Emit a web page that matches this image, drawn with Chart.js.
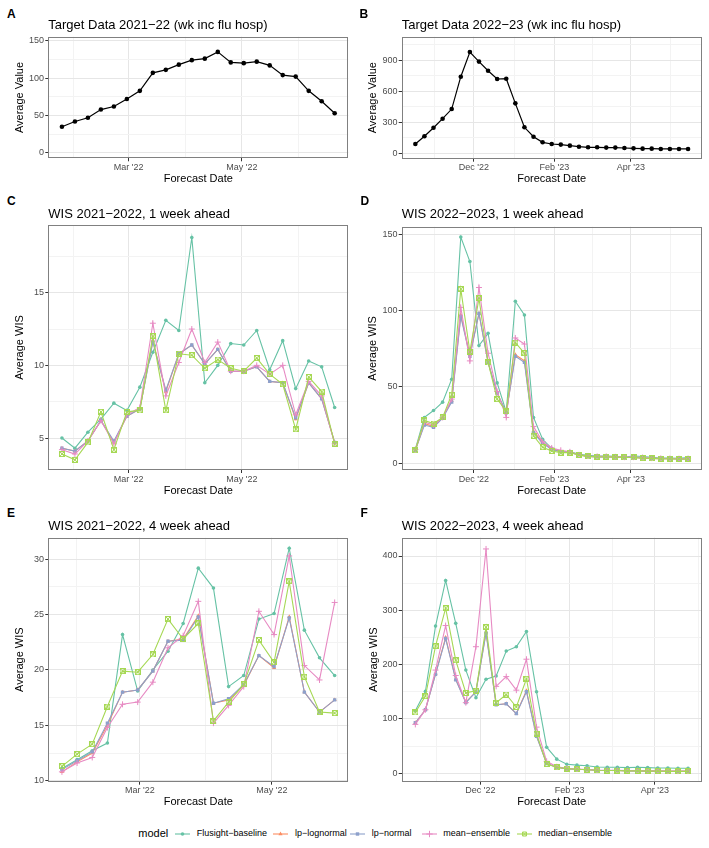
<!DOCTYPE html>
<html>
<head>
<meta charset="utf-8">
<title>FluSight WIS comparison</title>
<script src="https://cdn.jsdelivr.net/npm/chart.js@4.4.1/dist/chart.umd.min.js"></script>
<style>
  body { margin: 0; background: #fff; }
  #fig { position: relative; width: 709px; height: 848px; overflow: hidden;
         font-family: "Liberation Sans", Arial, sans-serif; color: #000; }
  #fig canvas { position: absolute; }
  .tag { position: absolute; font-size: 12px; line-height: 12px; font-weight: bold; }
  .ttl { position: absolute; font-size: 13px; line-height: 13px; white-space: nowrap; }
  .leg { position: absolute; white-space: nowrap; }
</style>
</head>
<body>
<div id="fig"></div>
<script>
// forecast dates (weekly, Mondays)
const DATES_2122 = ['2022-01-24', '2022-01-31', '2022-02-07', '2022-02-14', '2022-02-21', '2022-02-28',
  '2022-03-07', '2022-03-14', '2022-03-21', '2022-03-28', '2022-04-04', '2022-04-11', '2022-04-18',
  '2022-04-25', '2022-05-02', '2022-05-09', '2022-05-16', '2022-05-23', '2022-05-30', '2022-06-06',
  '2022-06-13', '2022-06-20'];
const DATES_2122_4WK = ['2022-01-24', '2022-01-31', '2022-02-07', '2022-02-14', '2022-02-21', '2022-02-28',
  '2022-03-07', '2022-03-14', '2022-03-21', '2022-03-28', '2022-04-04', '2022-04-11', '2022-04-18',
  '2022-04-25', '2022-05-02', '2022-05-09', '2022-05-16', '2022-05-23', '2022-05-30'];
const DATES_2223 = ['2022-10-17', '2022-10-24', '2022-10-31', '2022-11-07', '2022-11-14', '2022-11-21',
  '2022-11-28', '2022-12-05', '2022-12-12', '2022-12-19', '2022-12-26', '2023-01-02', '2023-01-09',
  '2023-01-16', '2023-01-23', '2023-01-30', '2023-02-06', '2023-02-13', '2023-02-20', '2023-02-27',
  '2023-03-06', '2023-03-13', '2023-03-20', '2023-03-27', '2023-04-03', '2023-04-10', '2023-04-17',
  '2023-04-24', '2023-05-01', '2023-05-08', '2023-05-15'];
const DATES_2223_4WK = ['2022-10-17', '2022-10-24', '2022-10-31', '2022-11-07', '2022-11-14', '2022-11-21',
  '2022-11-28', '2022-12-05', '2022-12-12', '2022-12-19', '2022-12-26', '2023-01-02', '2023-01-09',
  '2023-01-16', '2023-01-23', '2023-01-30', '2023-02-06', '2023-02-13', '2023-02-20', '2023-02-27',
  '2023-03-06', '2023-03-13', '2023-03-20', '2023-03-27', '2023-04-03', '2023-04-10', '2023-04-17',
  '2023-04-24'];

// A / B: target data
const TARGET_2122 = [35, 42, 47, 58, 62, 72, 83, 107, 111, 118, 124, 126, 135, 121, 120, 122, 117, 104, 102, 83, 69, 53];
const TARGET_2223 = [90, 165, 247, 334, 427, 739, 977, 885, 797, 717, 720, 482, 251, 160, 106, 90, 84, 74, 64, 58,
  58, 55, 55, 51, 48, 45, 45, 42, 42, 42, 42];

// C: WIS 2021-2022, 1 week ahead
const C_BASELINE  = [5.0, 4.3, 5.4, 6.3, 7.4, 6.9, 8.5, 10.9, 13.1, 12.4, 18.8, 8.8, 10.0, 11.5, 11.4, 12.4, 9.7, 11.7, 8.4, 10.3, 9.9, 7.1];
const C_LOGNORMAL = [4.3, 4.1, 4.8, 6.2, 4.7, 6.5, 7.0, 11.7, 8.2, 10.8, 11.4, 10.1, 11.1, 9.6, 9.6, 9.9, 8.9, 8.8, 6.3, 8.8, 7.7, 4.7];
const C_NORMAL    = [4.3, 4.1, 4.8, 6.2, 4.8, 6.5, 7.0, 11.6, 8.3, 10.8, 11.4, 10.1, 11.1, 9.6, 9.6, 9.9, 8.9, 8.8, 6.4, 8.8, 7.7, 4.7];
const C_MEAN      = [4.2, 3.9, 4.8, 6.2, 4.6, 6.6, 7.1, 12.9, 7.9, 10.2, 12.5, 10.2, 11.6, 9.6, 9.6, 10.0, 9.4, 10.0, 6.6, 8.9, 7.9, 4.6];
const C_MEDIAN    = [3.9, 3.5, 4.7, 6.8, 4.2, 6.8, 6.9, 12.0, 6.9, 10.8, 10.7, 9.8, 10.4, 9.8, 9.6, 10.5, 9.4, 8.7, 5.6, 9.2, 8.2, 4.6];

// D: WIS 2022-2023, 1 week ahead
const D_BASELINE  = [9.2, 30, 34.5, 40, 55, 148, 132, 77, 85, 52.6, 33.6, 106, 97, 30, 15.7, 9.8, 7.4, 7.6, 5.9, 5.2,
  4.8, 4.8, 4.6, 4.1, 4.8, 4.4, 3.9, 3.5, 3.5, 3.3, 3.7];
const D_LOGNORMAL = [8.5, 26, 24, 30, 41, 97, 71, 98, 66, 46, 33, 71, 67, 21, 13.5, 9.5, 7.5, 7, 5.5, 4.5,
  4.2, 4.3, 4.0, 3.8, 3.8, 3.5, 3.2, 3.0, 3.0, 2.8, 2.8];
const D_NORMAL    = [8.5, 25, 23.5, 29.5, 40, 96, 70, 98, 66, 46, 33, 70, 66, 20, 13, 9, 7.5, 7, 5.5, 4.5,
  4.2, 4.3, 4.0, 3.8, 3.8, 3.5, 3.2, 3.0, 3.0, 2.8, 2.8];
const D_MEAN      = [9, 27, 25, 30, 42, 102, 67, 115, 72, 47, 30, 82, 78, 24, 14, 10, 8.5, 7.5, 5.5, 4.8,
  4.5, 4.5, 4.2, 4.0, 4.0, 3.7, 3.4, 3.2, 3.1, 3.0, 3.0];
const D_MEDIAN    = [8.5, 28, 26, 30, 45, 114, 73, 108, 66, 42, 34, 79, 72, 18, 10.5, 8, 7, 7, 5.5, 4.5,
  4.3, 4.3, 4.0, 3.8, 3.8, 3.4, 3.2, 3.0, 3.0, 2.8, 2.8];

// E: WIS 2021-2022, 4 week ahead
const E_BASELINE  = [11.1, 11.9, 12.7, 13.4, 23.2, 18.1, 20.0, 21.7, 24.2, 29.2, 27.4, 18.5, 19.5, 24.6, 25.1, 31.0, 23.6, 21.1, 19.5];
const E_LOGNORMAL = [10.8, 11.7, 12.5, 15.0, 18.0, 18.2, 19.9, 22.6, 22.8, 24.9, 17.0, 17.3, 18.6, 21.3, 20.2, 24.8, 18.0, 16.2, 17.3];
const E_NORMAL    = [11.0, 11.8, 12.6, 15.2, 18.0, 18.2, 19.9, 22.6, 22.7, 24.8, 17.0, 17.4, 18.7, 21.3, 20.3, 24.7, 18.0, 16.2, 17.3];
const E_MEAN      = [10.8, 11.6, 12.1, 14.8, 16.9, 17.1, 18.9, 22.0, 23.1, 26.2, 15.2, 16.8, 18.5, 25.3, 23.2, 30.3, 20.4, 19.1, 26.1];
const E_MEDIAN    = [11.3, 12.4, 13.3, 16.7, 19.9, 19.8, 21.4, 24.6, 22.8, 24.2, 15.4, 17.1, 18.7, 22.7, 20.7, 28.0, 19.4, 16.2, 16.1];

// F: WIS 2022-2023, 4 week ahead
const F_BASELINE  = [115, 151, 271, 355, 276, 190, 139, 173, 179, 225, 233, 261, 150, 48, 26, 16.5, 15, 14, 11.6, 11,
  11, 10.4, 11, 10.4, 9.8, 9.8, 9.2, 9.2];
const F_LOGNORMAL = [93, 117, 183, 250, 173, 131, 150, 260, 126, 128, 110, 152, 69, 18, 11, 8, 7.5, 6.5, 5.5, 5,
  5, 4.5, 4.5, 4, 4, 3.5, 3.5, 3.5];
const F_NORMAL    = [93, 117, 182, 248, 172, 130, 150, 258, 126, 128, 110, 150, 68, 18, 11, 8, 7.5, 6.5, 5.5, 5,
  5, 4.5, 4.5, 4, 4, 3.5, 3.5, 3.5];
const F_MEAN      = [90, 117, 190, 272, 180, 130, 233, 413, 160, 178, 153, 210, 85, 22, 12, 9, 8, 7, 6, 5.5,
  5.5, 5, 5, 4.5, 4.5, 4, 4, 4];
const F_MEDIAN    = [112, 142, 234, 304, 208, 148, 152, 269, 130, 145, 122, 174, 73, 17, 11, 8.5, 7.5, 6.5, 5.5, 5,
  5, 4.5, 4.5, 4, 4, 3.5, 3.5, 3.5];

const MODELS = ['Flusight−baseline', 'lp−lognormal', 'lp−normal', 'mean−ensemble', 'median−ensemble'];

// axis breaks and labels
const X_BREAKS_2122 = ['2022-03-01', '2022-05-01'];
const X_LABELS_2122 = ["Mar '22", "May '22"];
const X_OUTER_2122 = ['2022-01-01', '2022-07-01'];
const X_BREAKS_2223 = ['2022-12-01', '2023-02-01', '2023-04-01'];
const X_LABELS_2223 = ["Dec '22", "Feb '23", "Apr '23"];
const X_OUTER_2223 = ['2022-10-01', '2023-06-01'];

const Y_BREAKS_A = [0, 50, 100, 150];
const Y_BREAKS_B = [0, 300, 600, 900];
const Y_BREAKS_C = [5, 10, 15];
const Y_BREAKS_D = [0, 50, 100, 150];
const Y_BREAKS_E = [10, 15, 20, 25, 30];
const Y_BREAKS_F = [0, 100, 200, 300, 400];

const COLORS = ['#66C2A5', '#FC8D62', '#8DA0CB', '#E78AC3', '#A6D854'];

Chart.defaults.font.family = '"Liberation Sans", Arial, sans-serif';
const fig = document.getElementById('fig');

const DAY = 86400000;
const dnum = s => Date.UTC(+s.slice(0, 4), +s.slice(5, 7) - 1, +s.slice(8, 10)) / DAY;
const mids = a => a.slice(1).map((v, i) => (v + a[i]) / 2);

function yMinor(br, lim) {
  const step = br[1] - br[0];
  const ext = [br[0] - step].concat(br, [br[br.length - 1] + step]);
  return mids(ext).filter(v => v > lim[0] && v < lim[1]);
}

// square with a cross inside (ggplot shape 7)
function boxCross(color) {
  const c = document.createElement('canvas');
  c.width = 6; c.height = 6;
  const g = c.getContext('2d');
  g.strokeStyle = color; g.lineWidth = 1;
  g.strokeRect(0.5, 0.5, 5, 5);
  g.beginPath();
  g.moveTo(0.5, 0.5); g.lineTo(5.5, 5.5);
  g.moveTo(5.5, 0.5); g.lineTo(0.5, 5.5);
  g.stroke();
  return c;
}
const STYLES = ['circle', 'triangle', 'rect', 'cross', boxCross(COLORS[4])];
const RADII = [1.8, 2.4, 2.4, 3.0, 3];

function modelSets(dates, list) {
  return list.map((vals, i) => ({
    label: MODELS[i],
    data: vals.map((v, j) => ({ x: dnum(dates[j]), y: v })),
    borderColor: COLORS[i],
    backgroundColor: COLORS[i],
    borderWidth: 1.1,
    pointStyle: STYLES[i],
    pointRadius: RADII[i],
    pointBorderWidth: i === 3 ? 1 : 0,
    tension: 0,
    order: 5 - i
  }));
}

function targetSet(dates, vals) {
  return [{
    label: 'target',
    data: vals.map((v, j) => ({ x: dnum(dates[j]), y: v })),
    borderColor: '#000', backgroundColor: '#000',
    borderWidth: 1.2, pointRadius: 2.3, pointBorderWidth: 0, tension: 0
  }];
}

const panelBox = {
  id: 'panelBox',
  afterDraw(chart) {
    const { ctx, chartArea: a } = chart;
    const l = Math.round(a.left), t = Math.round(a.top), r = Math.round(a.right), b = Math.round(a.bottom);
    ctx.save();
    ctx.strokeStyle = '#808080';
    ctx.lineWidth = 1;
    ctx.strokeRect(l + 0.5, t + 0.5, r - l - 1, b - t - 1);
    ctx.restore();
  }
};

function addText(cls, txt, left, top) {
  const d = document.createElement('div');
  d.className = cls;
  d.textContent = txt;
  d.style.left = left + 'px';
  d.style.top = top + 'px';
  fig.appendChild(d);
  return d;
}

function panel(o) {
  const [cx, cy, cw, ch] = o.box;
  const [pl, pt, pr, pb] = o.plot;
  const cv = document.createElement('canvas');
  cv.width = cw; cv.height = ch;
  cv.style.left = cx + 'px'; cv.style.top = cy + 'px';
  fig.appendChild(cv);
  addText('tag', o.tag, o.tagPos[0], o.tagPos[1]);
  addText('ttl', o.title, pl, o.titleTop);

  const xs = o.dates.map(dnum);
  const span = xs[xs.length - 1] - xs[0];
  const xmin = xs[0] - 0.05 * span, xmax = xs[xs.length - 1] + 0.05 * span;
  const xMaj = o.xBreaks.map(dnum);
  const xMin = mids([dnum(o.xOuter[0])].concat(xMaj, [dnum(o.xOuter[1])]));
  const xTicks = xMaj.concat(xMin).filter(v => v > xmin && v < xmax).sort((a, b) => a - b);
  const yTicks = o.yBreaks.concat(yMinor(o.yBreaks, o.yLim)).sort((a, b) => a - b);
  const majX = v => xMaj.indexOf(v) >= 0;
  const majY = v => o.yBreaks.indexOf(v) >= 0;
  const grid = isMaj => ({
    color: c => (c.tick && isMaj(c.tick.value)) ? '#E6E6E6' : '#F3F3F3',
    tickColor: c => (c.tick && isMaj(c.tick.value)) ? '#333333' : 'rgba(0,0,0,0)',
    lineWidth: 1, tickLength: 3, drawTicks: true
  });
  const tickFont = { size: 9 };
  const lh = 11 * 1.2;

  new Chart(cv, {
    type: 'line',
    data: { datasets: o.datasets },
    options: {
      animation: false,
      responsive: false,
      layout: { padding: { left: 0, top: pt - cy, right: cx + cw - pr, bottom: 0 } },
      plugins: { legend: { display: false }, tooltip: { enabled: false } },
      scales: {
        x: {
          type: 'linear', min: xmin, max: xmax, bounds: 'data',
          afterBuildTicks: sc => { sc.ticks = xTicks.map(v => ({ value: v })); },
          afterFit: sc => { sc.height = cy + ch - pb; },
          ticks: {
            autoSkip: false, maxRotation: 0, minRotation: 0, padding: 0.8,
            font: tickFont, color: '#4D4D4D',
            callback: v => { const k = xMaj.indexOf(v); return k >= 0 ? o.xLabels[k] : ''; }
          },
          grid: grid(majX),
          border: { display: false },
          title: {
            display: true, text: 'Forecast Date', color: '#000', font: { size: 11 },
            padding: { top: 0, bottom: (cy + ch) - (pb + 20.5) - lh / 2 }
          }
        },
        y: {
          type: 'linear', min: o.yLim[0], max: o.yLim[1], bounds: 'data',
          afterBuildTicks: sc => { sc.ticks = yTicks.map(v => ({ value: v })); },
          afterFit: sc => { sc.width = pl - cx; },
          ticks: {
            autoSkip: false, padding: 1.3, font: tickFont, color: '#4D4D4D',
            callback: v => majY(v) ? String(v) : ''
          },
          grid: grid(majY),
          border: { display: false },
          title: {
            display: true, text: o.yTitle, color: '#000', font: { size: 11 },
            padding: { top: o.yTitleX - cx - lh / 2, bottom: 0 }
          }
        }
      }
    },
    plugins: [panelBox]
  });
}

panel({
  tag: 'A', tagPos: [7, 8.3], title: 'Target Data 2021−22 (wk inc flu hosp)', titleTop: 17.8,
  box: [0, 26, 354, 164], plot: [48.3, 36.7, 348.3, 158.3],
  dates: DATES_2122, xBreaks: X_BREAKS_2122, xLabels: X_LABELS_2122, xOuter: X_OUTER_2122,
  yBreaks: Y_BREAKS_A, yLim: [-7.1, 155.3], yTitle: 'Average Value', yTitleX: 20,
  datasets: targetSet(DATES_2122, TARGET_2122)
});
panel({
  tag: 'B', tagPos: [359.5, 8.3], title: 'Target Data 2022−23 (wk inc flu hosp)', titleTop: 17.8,
  box: [354, 26, 355, 164], plot: [401.7, 36.7, 701.7, 158.7],
  dates: DATES_2223, xBreaks: X_BREAKS_2223, xLabels: X_LABELS_2223, xOuter: X_OUTER_2223,
  yBreaks: Y_BREAKS_B, yLim: [-52, 1125], yTitle: 'Average Value', yTitleX: 372.5,
  datasets: targetSet(DATES_2223, TARGET_2223)
});
panel({
  tag: 'C', tagPos: [7, 195], title: 'WIS 2021−2022, 1 week ahead', titleTop: 206.6,
  box: [0, 215, 354, 285], plot: [48.3, 225, 348.3, 470],
  dates: DATES_2122, xBreaks: X_BREAKS_2122, xLabels: X_LABELS_2122, xOuter: X_OUTER_2122,
  yBreaks: Y_BREAKS_C, yLim: [2.8, 19.66], yTitle: 'Average WIS', yTitleX: 20.3,
  datasets: modelSets(DATES_2122, [C_BASELINE, C_LOGNORMAL, C_NORMAL, C_MEAN, C_MEDIAN])
});
panel({
  tag: 'D', tagPos: [360.5, 195], title: 'WIS 2022−2023, 1 week ahead', titleTop: 207.2,
  box: [354, 215, 355, 285], plot: [401.7, 226.7, 701.7, 470],
  dates: DATES_2223, xBreaks: X_BREAKS_2223, xLabels: X_LABELS_2223, xOuter: X_OUTER_2223,
  yBreaks: Y_BREAKS_D, yLim: [-4.4, 154.8], yTitle: 'Average WIS', yTitleX: 372.5,
  datasets: modelSets(DATES_2223, [D_BASELINE, D_LOGNORMAL, D_NORMAL, D_MEAN, D_MEDIAN])
});
panel({
  tag: 'E', tagPos: [7, 506.6], title: 'WIS 2021−2022, 4 week ahead', titleTop: 518.6,
  box: [0, 527, 354, 288], plot: [48.3, 537.7, 348.3, 781.7],
  dates: DATES_2122_4WK, xBreaks: X_BREAKS_2122, xLabels: X_LABELS_2122, xOuter: X_OUTER_2122,
  yBreaks: Y_BREAKS_E, yLim: [9.91, 31.95], yTitle: 'Average WIS', yTitleX: 20,
  datasets: modelSets(DATES_2122_4WK, [E_BASELINE, E_LOGNORMAL, E_NORMAL, E_MEAN, E_MEDIAN])
});
panel({
  tag: 'F', tagPos: [360.5, 507], title: 'WIS 2022−2023, 4 week ahead', titleTop: 519,
  box: [354, 527, 355, 288], plot: [401.7, 537.7, 701.7, 781.7],
  dates: DATES_2223_4WK, xBreaks: X_BREAKS_2223, xLabels: X_LABELS_2223, xOuter: X_OUTER_2223,
  yBreaks: Y_BREAKS_F, yLim: [-15.5, 433.7], yTitle: 'Average WIS', yTitleX: 373.5,
  datasets: modelSets(DATES_2223_4WK, [F_BASELINE, F_LOGNORMAL, F_NORMAL, F_MEAN, F_MEDIAN])
});

// shared legend
function keySvg(i) {
  const c = COLORS[i];
  let m;
  if (i === 0) m = `<circle cx="8.5" cy="5" r="1.8" fill="${c}"/>`;
  else if (i === 1) m = `<polygon points="8.5,2.6 10.6,6.2 6.4,6.2" fill="${c}"/>`;
  else if (i === 2) m = `<rect x="6.8" y="3.3" width="3.4" height="3.4" fill="${c}"/>`;
  else if (i === 3) m = `<path d="M8.5 1.8V8.2M5.3 5H11.7" stroke="${c}" stroke-width="1"/>`;
  else m = `<path d="M6.5 3h4v4h-4zM6.5 3l4 4M10.5 3l-4 4" fill="none" stroke="${c}" stroke-width="1"/>`;
  return `<svg width="17" height="10"><line x1="1" y1="5" x2="16" y2="5" stroke="${c}" stroke-width="1.1"/>${m}</svg>`;
}
const legTitle = addText('leg', 'model', 138.3, 827.6);
legTitle.style.fontSize = '11px'; legTitle.style.lineHeight = '11px';
const KEY_X = [174, 272, 349, 420.7, 515.7];
const TXT_X = [196.7, 295, 371.7, 443.3, 538.3];
MODELS.forEach((m, i) => {
  const k = document.createElement('div');
  k.className = 'leg';
  k.style.left = KEY_X[i] + 'px'; k.style.top = '829px'; k.style.lineHeight = '0';
  k.innerHTML = keySvg(i);
  fig.appendChild(k);
  const t = addText('leg', m, TXT_X[i], 828.7);
  t.style.fontSize = '9px'; t.style.lineHeight = '9px';
});
</script>
</body>
</html>
